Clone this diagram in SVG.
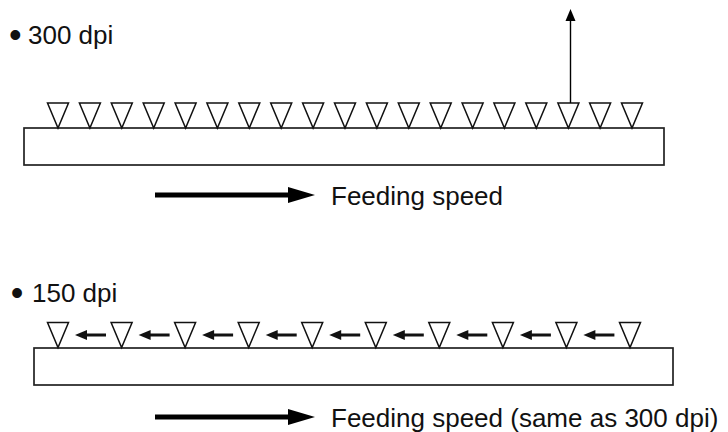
<svg xmlns="http://www.w3.org/2000/svg" xmlns:xlink="http://www.w3.org/1999/xlink" width="728" height="432" viewBox="0 0 728 432">
<style>
  .lbl { font-family: "Liberation Sans", Arial, Helvetica, sans-serif; font-size: 26px; fill: #111; }
  .bul { font-size: 36px; }
  .bar { fill: #fff; stroke: #222; stroke-width: 1.7; }
  .tri { fill: #fff; stroke: #111; stroke-width: 1.5; stroke-linejoin: miter; }
  .thick { stroke: #000; stroke-width: 5; fill: none; }
  .thin { stroke: #000; stroke-width: 1.4; fill: none; }
  .mid { stroke: #111; stroke-width: 3; fill: none; }
</style>
<defs>
  <path id="tri" class="tri" d="M-10.5,0 H10.5 L0,25 Z"/>
  <g id="la">
    <line class="mid" x1="48" y1="0" x2="27" y2="0"/>
    <polygon points="17,0 29,-5 29,5" fill="#111"/>
  </g>
</defs>

<g id="label-300"><text class="lbl" x="9" y="43.5"><tspan class="bul" dy="3">•</tspan><tspan x="28" dy="-3">300 dpi</tspan></text></g>
<g id="bar-300"><rect class="bar" x="24" y="128" width="640" height="37"/></g>
<g id="nozzles-300">
  <use xlink:href="#tri" x="58" y="103"/>
  <use xlink:href="#tri" x="89.9" y="103"/>
  <use xlink:href="#tri" x="121.8" y="103"/>
  <use xlink:href="#tri" x="153.7" y="103"/>
  <use xlink:href="#tri" x="185.6" y="103"/>
  <use xlink:href="#tri" x="217.4" y="103"/>
  <use xlink:href="#tri" x="249.3" y="103"/>
  <use xlink:href="#tri" x="281.2" y="103"/>
  <use xlink:href="#tri" x="313.1" y="103"/>
  <use xlink:href="#tri" x="345" y="103"/>
  <use xlink:href="#tri" x="376.9" y="103"/>
  <use xlink:href="#tri" x="408.8" y="103"/>
  <use xlink:href="#tri" x="440.7" y="103"/>
  <use xlink:href="#tri" x="472.6" y="103"/>
  <use xlink:href="#tri" x="504.4" y="103"/>
  <use xlink:href="#tri" x="536.3" y="103"/>
  <use xlink:href="#tri" x="568.4" y="103"/>
  <use xlink:href="#tri" x="600.1" y="103"/>
  <use xlink:href="#tri" x="632" y="103"/>
</g>
<g id="label-feed-300"><text class="lbl" x="331" y="205">Feeding speed</text></g>

<g id="label-150"><text class="lbl" x="10.7" y="302"><tspan class="bul" dy="3">•</tspan><tspan x="32" dy="-3">150 dpi</tspan></text></g>
<g id="bar-150"><rect class="bar" x="34" y="348" width="639" height="37"/></g>
<g id="nozzles-150">
  <use xlink:href="#tri" x="58" y="322.5"/>
  <use xlink:href="#tri" x="121.6" y="322.5"/>
  <use xlink:href="#tri" x="185.1" y="322.5"/>
  <use xlink:href="#tri" x="248.7" y="322.5"/>
  <use xlink:href="#tri" x="312.2" y="322.5"/>
  <use xlink:href="#tri" x="375.8" y="322.5"/>
  <use xlink:href="#tri" x="439.3" y="322.5"/>
  <use xlink:href="#tri" x="502.9" y="322.5"/>
  <use xlink:href="#tri" x="566.4" y="322.5"/>
  <use xlink:href="#tri" x="630" y="322.5"/>
</g>
<g id="label-feed-150"><text class="lbl" x="331" y="427">Feeding speed (same as 300 dpi)</text></g>

<g id="connectors">
  <line class="thin" x1="570.5" y1="103" x2="570.5" y2="19"/>
  <polygon points="570.5,9 575.5,21 565.5,21" fill="#000"/>
  <line class="thick" x1="155" y1="195" x2="290" y2="195"/>
  <polygon points="288,187 315,195 288,203" fill="#000"/>
  <line class="thick" x1="155" y1="417" x2="290" y2="417"/>
  <polygon points="288,409 315,417 288,425" fill="#000"/>
  <use xlink:href="#la" x="58" y="335"/>
  <use xlink:href="#la" x="121.6" y="335"/>
  <use xlink:href="#la" x="185.1" y="335"/>
  <use xlink:href="#la" x="248.7" y="335"/>
  <use xlink:href="#la" x="312.2" y="335"/>
  <use xlink:href="#la" x="375.8" y="335"/>
  <use xlink:href="#la" x="439.3" y="335"/>
  <use xlink:href="#la" x="502.9" y="335"/>
  <use xlink:href="#la" x="566.4" y="335"/>
</g>
</svg>
